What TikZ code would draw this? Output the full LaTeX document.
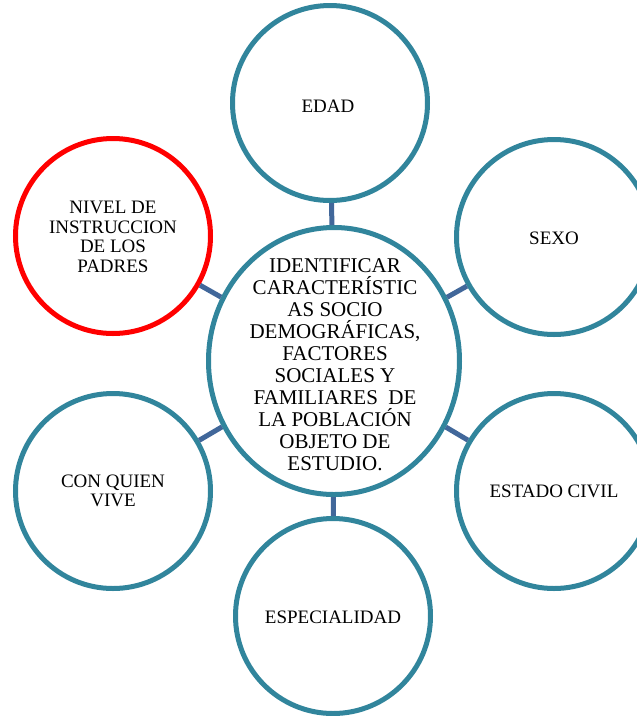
\documentclass[tikz,border=0pt]{standalone}
\usepackage{fontspec}
\setmainfont{Liberation Serif}
\usetikzlibrary{shapes.geometric}
\definecolor{ringteal}{HTML}{31859C}
\definecolor{linkblue}{HTML}{41679A}
\definecolor{ringred}{HTML}{FF0000}
\begin{document}
\begin{tikzpicture}[x=1pt,y=-1pt,
  ring/.style={circle,draw=ringteal,line width=5pt,minimum size=195pt,inner sep=0pt,fill=white},
  redring/.style={ring,draw=ringred},
  hub/.style={ellipse,draw=ringteal,line width=5pt,minimum width=251pt,minimum height=267pt,inner sep=0pt,fill=white},
  outertxt/.style={align=center,inner sep=0pt,font=\fontsize{19pt}{19.6pt}\selectfont},
  hubtxt/.style={align=center,inner sep=0pt,font=\fontsize{21pt}{22pt}\selectfont},
  link/.style={draw=linkblue,line width=5pt}]
\useasboundingbox (0,0) rectangle (637,716);
\fill[white] (0,0) rectangle (637,716);
\node[hub] (hub) at (334,361) {};
\node[ring] (edad) at (330,103) {};
\node[ring] (sexo) at (554,237) {};
\node[ring] (civil) at (554,491) {};
\node[ring] (esp) at (333,616) {};
\node[ring] (vive) at (113,491) {};
\node[redring] (nivel) at (113,236) {};
\draw[link] (hub) -- (edad);
\draw[link] (hub) -- (sexo);
\draw[link] (hub) -- (civil);
\draw[link] (hub) -- (esp);
\draw[link] (hub) -- (vive);
\draw[link] (hub) -- (nivel);
\node[hubtxt,anchor=north] (hubt) at (335,258) {IDENTIFICAR\\CARACTERÍSTIC\\AS SOCIO\\DEMOGRÁFICAS,\\FACTORES\\SOCIALES Y\\FAMILIARES\ \ DE\\LA POBLACIÓN\\OBJETO DE\\ESTUDIO.};
\node[outertxt] (edadt) at (328,106) {EDAD};
\node[outertxt] (sexot) at (554,238) {SEXO};
\node[outertxt] (civilt) at (554,491) {ESTADO CIVIL};
\node[outertxt] (espt) at (333,617) {ESPECIALIDAD};
\node[outertxt] (vivet) at (113,491) {CON QUIEN\\VIVE};
\node[outertxt] (nivelt) at (113,237) {NIVEL DE\\INSTRUCCION\\DE LOS\\PADRES};
\end{tikzpicture}
\end{document}
